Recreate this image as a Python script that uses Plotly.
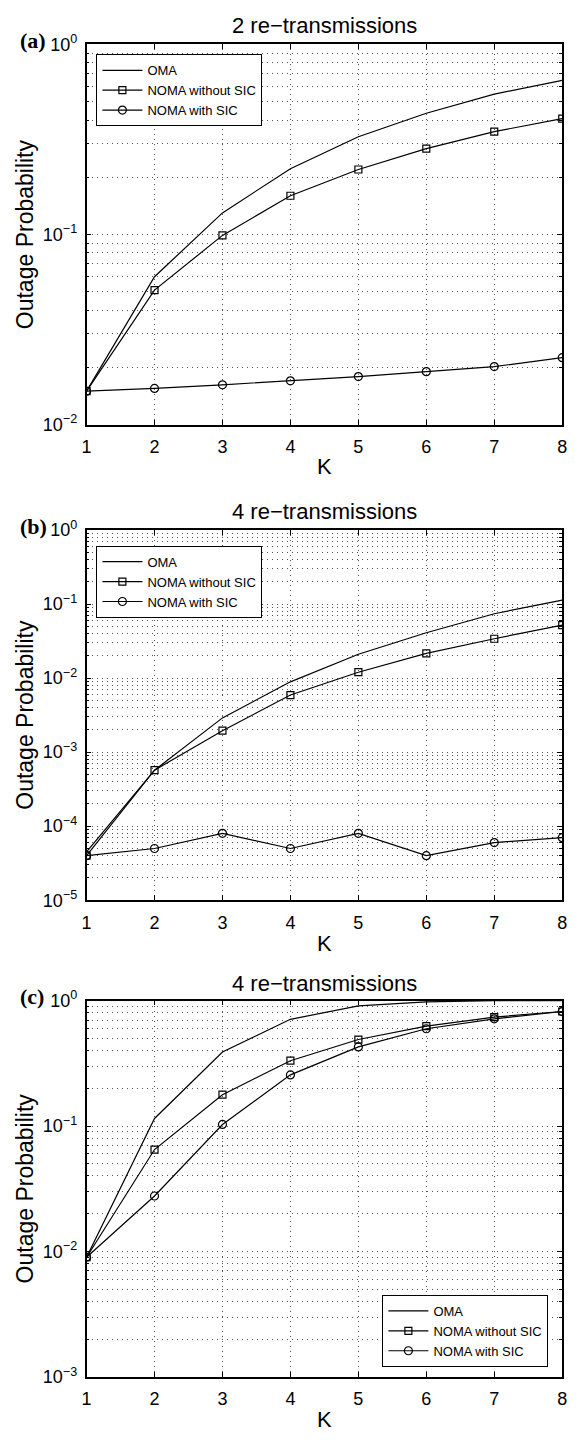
import plotly.graph_objects as go

K = [1, 2, 3, 4, 5, 6, 7, 8]
series_names = ["OMA", "NOMA without SIC", "NOMA with SIC"]

a_oma = [0.015, 0.060, 0.13, 0.222, 0.327, 0.435, 0.548, 0.648]
a_noma_wo = [0.015, 0.051, 0.099, 0.16, 0.22, 0.283, 0.348, 0.407]
a_noma_w = [0.015, 0.0155, 0.0162, 0.0170, 0.0179, 0.0190, 0.0202, 0.0225]

b_oma = [4.5e-5, 5.7e-4, 2.9e-3, 8.9e-3, 0.021, 0.041, 0.074, 0.113]
b_noma_wo = [4.0e-5, 5.7e-4, 1.95e-3, 5.9e-3, 0.012, 0.0216, 0.034, 0.052]
b_noma_w = [4.0e-5, 5.0e-5, 8.0e-5, 5.0e-5, 8.0e-5, 4.0e-5, 6.0e-5, 7.0e-5]

c_oma = [0.009, 0.115, 0.39, 0.71, 0.91, 0.98, 1.0, 1.0]
c_noma_wo = [0.009, 0.065, 0.178, 0.332, 0.49, 0.627, 0.74, 0.82]
c_noma_w = [0.009, 0.0277, 0.103, 0.256, 0.428, 0.597, 0.717, 0.82]

titles = ["2 re\u2212transmissions", "4 re\u2212transmissions", "4 re\u2212transmissions"]
panel_labels = ["(a)", "(b)", "(c)"]
y_exp_ranges = [(-2, 0), (-5, 0), (-3, 0)]

W, H = 580, 1442
FONT = "Liberation Sans, Arial, Helvetica, sans-serif"
SERIF = "Liberation Serif, Times New Roman, serif"

x_left, x_right = 83, 567
panel_tops = [33, 526, 1004]
panel_bottoms = [419, 902, 1386]

def px_x(p):
    return p / W

def px_y(p):
    return 1 - p / H

data_sets = [
    (a_oma, a_noma_wo, a_noma_w),
    (b_oma, b_noma_wo, b_noma_w),
    (c_oma, c_noma_wo, c_noma_w),
]

fig = go.Figure()
markers = [None, "square-open", "circle-open"]
msizes = [0, 7, 8]
legend_ids = ["legend", "legend2", "legend3"]

for i, series in enumerate(data_sets):
    xa = "x" if i == 0 else f"x{i+1}"
    ya = "y" if i == 0 else f"y{i+1}"
    for j, vals in enumerate(series):
        mode = "lines" if markers[j] is None else "lines+markers"
        fig.add_trace(go.Scatter(
            x=K, y=vals, mode=mode, name=series_names[j],
            xaxis=xa, yaxis=ya, legend=legend_ids[i],
            line=dict(color="black", width=1.2),
            marker=dict(symbol=markers[j] or "circle", size=msizes[j] or 1,
                        color="black", line=dict(color="black", width=1.2)),
            cliponaxis=False if j == 0 else True,
        ))

layout = dict(
    width=W, height=H, margin=dict(l=0, r=0, t=0, b=0),
    paper_bgcolor="white", plot_bgcolor="white",
    font=dict(family=FONT, size=16, color="black"),
    showlegend=True,
)

GRIDC = "#555"
DOT = "1px,4px"
grid = dict(showgrid=True, gridcolor=GRIDC, gridwidth=1, griddash=DOT)

for i in range(3):
    sfx = "" if i == 0 else str(i + 1)
    lo, hi = y_exp_ranges[i]
    tickvals = [10.0 ** e for e in range(lo, hi + 1)]
    ticktext = [f"10<sup>{'\u2212' if e < 0 else ''}{abs(e)}</sup>" for e in range(lo, hi + 1)]
    layout["xaxis" + sfx] = dict(
        domain=[px_x(x_left), px_x(x_right)], anchor="y" + sfx,
        range=[1, 8], tickvals=K, ticktext=[str(k) for k in K],
        ticks="inside", ticklen=5, tickcolor="black", tickwidth=1,
        showline=True, linecolor="black", linewidth=1.5, mirror="ticks",
        zeroline=False, ticklabelstandoff=5,
        tickfont=dict(size=18, family=FONT), **grid,
    )
    layout["yaxis" + sfx] = dict(
        domain=[px_y(panel_bottoms[i]), px_y(panel_tops[i])], anchor="x" + sfx,
        type="log", range=[lo, hi], tickmode="array",
        tickvals=tickvals, ticktext=ticktext,
        ticks="inside", ticklen=5, tickcolor="black", tickwidth=1,
        showline=True, linecolor="black", linewidth=1.5, mirror="ticks",
        zeroline=False, ticklabelstandoff=4,
        tickfont=dict(size=18, family=FONT),
        minor=dict(dtick="D1", ticks="inside", ticklen=3, tickcolor="black",
                   showgrid=True, gridcolor=GRIDC, gridwidth=1, griddash=DOT),
        **grid,
    )

leg_common = dict(bgcolor="white", bordercolor="black", borderwidth=1,
                  font=dict(size=13, family=FONT), itemwidth=40,
                  tracegroupgap=0, xanchor="left")
layout["legend"] = dict(x=px_x(93), y=px_y(43), yanchor="top", **leg_common)
layout["legend2"] = dict(x=px_x(93), y=px_y(542), yanchor="top", **leg_common)
layout["legend3"] = dict(x=px_x(384), y=px_y(1376), yanchor="bottom", **leg_common)

annotations = []
cx = px_x((x_left + x_right) / 2)
title_y = [14, 507, 987]
k_y = [462, 946, 1429]
for i in range(3):
    annotations.append(dict(text=titles[i], x=cx, y=px_y(title_y[i]), xref="paper", yref="paper",
                            showarrow=False, font=dict(size=22, family=FONT), xanchor="center", yanchor="middle"))
    annotations.append(dict(text="K", x=cx, y=px_y(k_y[i]), xref="paper", yref="paper",
                            showarrow=False, font=dict(size=22, family=FONT), xanchor="center", yanchor="middle"))
    annotations.append(dict(text="Outage Probability", x=px_x(20),
                            y=px_y((panel_tops[i] + panel_bottoms[i]) / 2), xref="paper", yref="paper",
                            showarrow=False, textangle=-90, font=dict(size=23, family=FONT),
                            xanchor="center", yanchor="middle"))
    annotations.append(dict(text=f"<b>{panel_labels[i]}</b>", x=px_x(13), y=px_y(panel_tops[i] - 4),
                            xref="paper", yref="paper", showarrow=False,
                            font=dict(size=22, family=SERIF), xanchor="left", yanchor="middle"))
layout["annotations"] = annotations

fig.update_layout(**layout)
fig.write_html("out.html", post_script="document.body.style.margin='0';document.body.style.overflow='hidden';")
